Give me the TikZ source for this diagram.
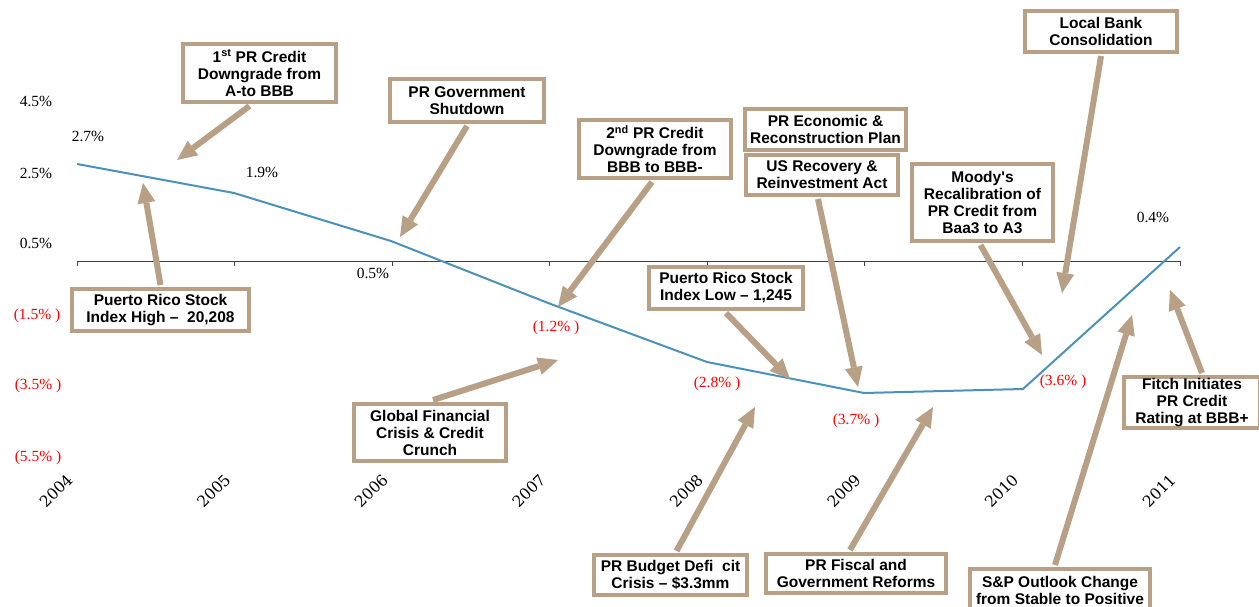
\documentclass[tikz,border=0pt]{standalone}
\usepackage{fontspec}
\setmainfont{Liberation Serif}
\newfontfamily\boxfont{Liberation Sans}
\newfontfamily\yearfont{DejaVu Serif}
\usepackage{xcolor}
\usetikzlibrary{positioning,arrows.meta}
\definecolor{boxtan}{RGB}{184,160,134}
\definecolor{lineblue}{RGB}{74,146,186}
\definecolor{pctred}{RGB}{255,0,0}

\begin{document}
\begin{tikzpicture}[x=1pt,y=-1pt,
  evbox/.style={draw=boxtan,line width=4pt,fill=white,align=center,inner sep=1pt,
    font=\boxfont\bfseries\fontsize{15.5}{17}\selectfont},
  evarrow/.style={draw=boxtan,line width=6pt,
    -{Triangle[length=20pt,width=18pt,line width=0pt]},boxtan},
  pct/.style={font=\fontsize{15.5}{17}\selectfont},
  negpct/.style={pct,text=pctred},
  yearlbl/.style={font=\yearfont\fontsize{15.5}{17}\selectfont,rotate=45},
  axisline/.style={draw=black!75,line width=1pt}]
\useasboundingbox (0,0) rectangle (1259,607);
\fill [white] (0,0) rectangle (1259,607);

\draw [axisline] (77,261) -- (1180,261);
\foreach \i in {0,...,7}
  \draw [axisline] (77+157.57*\i,261) -- (77+157.57*\i,266);
\foreach \yr [count=\i from 0] in {2004,2005,2006,2007,2008,2009,2010,2011}
  \node [yearlbl] (yr\yr) at (56+157.57*\i,491) {\yr};

\node [pct] (ya1) at (36,101) {4.5\%};
\node [pct] (ya2) at (36,173) {2.5\%};
\node [pct] (ya3) at (36,243) {0.5\%};
\node [negpct] (ya4) at (37,316) {(1.5\% )};
\node [negpct] (ya5) at (38,386) {(3.5\% )};
\node [negpct] (ya6) at (38,458) {(5.5\% )};

\draw [lineblue,line width=2pt,line join=round]
  (77,164) -- (234,193) -- (391,241) -- (548,303) -- (707,362)
  -- (864,393) -- (1023,389) -- (1180,247);

\node [pct] (val2004) at (88,136) {2.7\%};
\node [pct] (val2005) at (262,172) {1.9\%};
\node [pct] (val2006) at (373,273) {0.5\%};
\node [negpct] (val2007) at (556,328) {(1.2\% )};
\node [negpct] (val2008) at (717,384) {(2.8\% )};
\node [negpct] (val2009) at (856,421) {(3.7\% )};
\node [negpct] (val2010) at (1063,382) {(3.6\% )};
\node [pct] (val2011) at (1153,217) {0.4\%};

\node [evbox,minimum width=153pt,minimum height=58pt] (firstdown) at (259.5,73) {1\textsuperscript{st} PR Credit\\Downgrade from\\A-to BBB};
\node [evbox,minimum width=177pt,minimum height=42pt] (stockhigh) at (160.5,310) {Puerto Rico Stock\\Index High –\ \ 20,208};
\node [evbox,minimum width=154pt,minimum height=43pt] (shutdown) at (467,100.5) {PR Government\\Shutdown};
\node [evbox,minimum width=152pt,minimum height=58pt] (seconddown) at (655,149) {2\textsuperscript{nd} PR Credit\\Downgrade from\\BBB to BBB-};
\node [evbox,minimum width=161pt,minimum height=41pt] (econplan) at (825.5,129.5) {PR Economic \&\\Reconstruction Plan};
\node [evbox,minimum width=152pt,minimum height=40pt] (usrecovery) at (822,175) {US Recovery \&\\Reinvestment Act};
\node [evbox,minimum width=141pt,minimum height=77pt] (moody) at (982.5,202.5) {Moody's\\Recalibration of\\PR Credit from\\Baa3 to A3};
\node [evbox,minimum width=152pt,minimum height=41pt] (localbank) at (1101,31.5) {Local Bank\\Consolidation};
\node [evbox,minimum width=154pt,minimum height=42pt] (stocklow) at (726,288) {Puerto Rico Stock\\Index Low – 1,245};
\node [evbox,minimum width=152pt,minimum height=57pt] (globalcrisis) at (430,432.5) {Global Financial\\Crisis \& Credit\\Crunch};
\node [evbox,minimum width=153pt,minimum height=40pt] (budget) at (670.5,575) {PR Budget Defi\ \ cit\\Crisis – \$3.3mm};
\node [evbox,minimum width=180pt,minimum height=39pt] (fiscal) at (856,573.5) {PR Fiscal and\\Government Reforms};
\node [evbox,minimum width=180pt,minimum height=42pt] (spoutlook) at (1060,590) {S\&P Outlook Change\\from Stable to Positive};
\node [evbox,minimum width=136pt,minimum height=51pt] (fitch) at (1192,402.5) {Fitch Initiates\\PR Credit\\Rating at BBB+};

\coordinate (t1) at (177,160);
\coordinate (t2) at (143,183);
\coordinate (t3) at (400,237);
\coordinate (t4) at (558,307);
\coordinate (t5) at (858,387);
\coordinate (t6) at (1042,355);
\coordinate (t7) at (1062,293);
\coordinate (t8) at (790,379);
\coordinate (t9) at (558,360);
\coordinate (t10) at (755,407);
\coordinate (t11) at (933,407);
\coordinate (t12) at (1132,315);
\coordinate (t13) at (1170,290);

\draw [evarrow] ([xshift=-10pt,yshift=-2pt]firstdown.south) -- (t1);
\draw [evarrow] ([yshift=2pt]stockhigh.north) -- (t2);
\draw [evarrow] ([yshift=-2pt]shutdown.south) -- (t3);
\draw [evarrow] ([xshift=-3pt,yshift=-2pt]seconddown.south) -- (t4);
\draw [evarrow] ([xshift=-4pt,yshift=-2pt]usrecovery.south) -- (t5);
\draw [evarrow] ([xshift=-2pt,yshift=-2pt]moody.south) -- (t6);
\draw [evarrow] ([yshift=-2pt]localbank.south) -- (t7);
\draw [evarrow] ([yshift=-2pt]stocklow.south) -- (t8);
\draw [evarrow] ([xshift=3pt,yshift=2pt]globalcrisis.north) -- (t9);
\draw [evarrow] ([xshift=6pt,yshift=2pt]budget.north) -- (t10);
\draw [evarrow] ([xshift=-6pt,yshift=2pt]fiscal.north) -- (t11);
\draw [evarrow] ([xshift=-5pt,yshift=2pt]spoutlook.north) -- (t12);
\draw [evarrow] ([xshift=10pt,yshift=2pt]fitch.north) -- (t13);
\end{tikzpicture}
\end{document}
